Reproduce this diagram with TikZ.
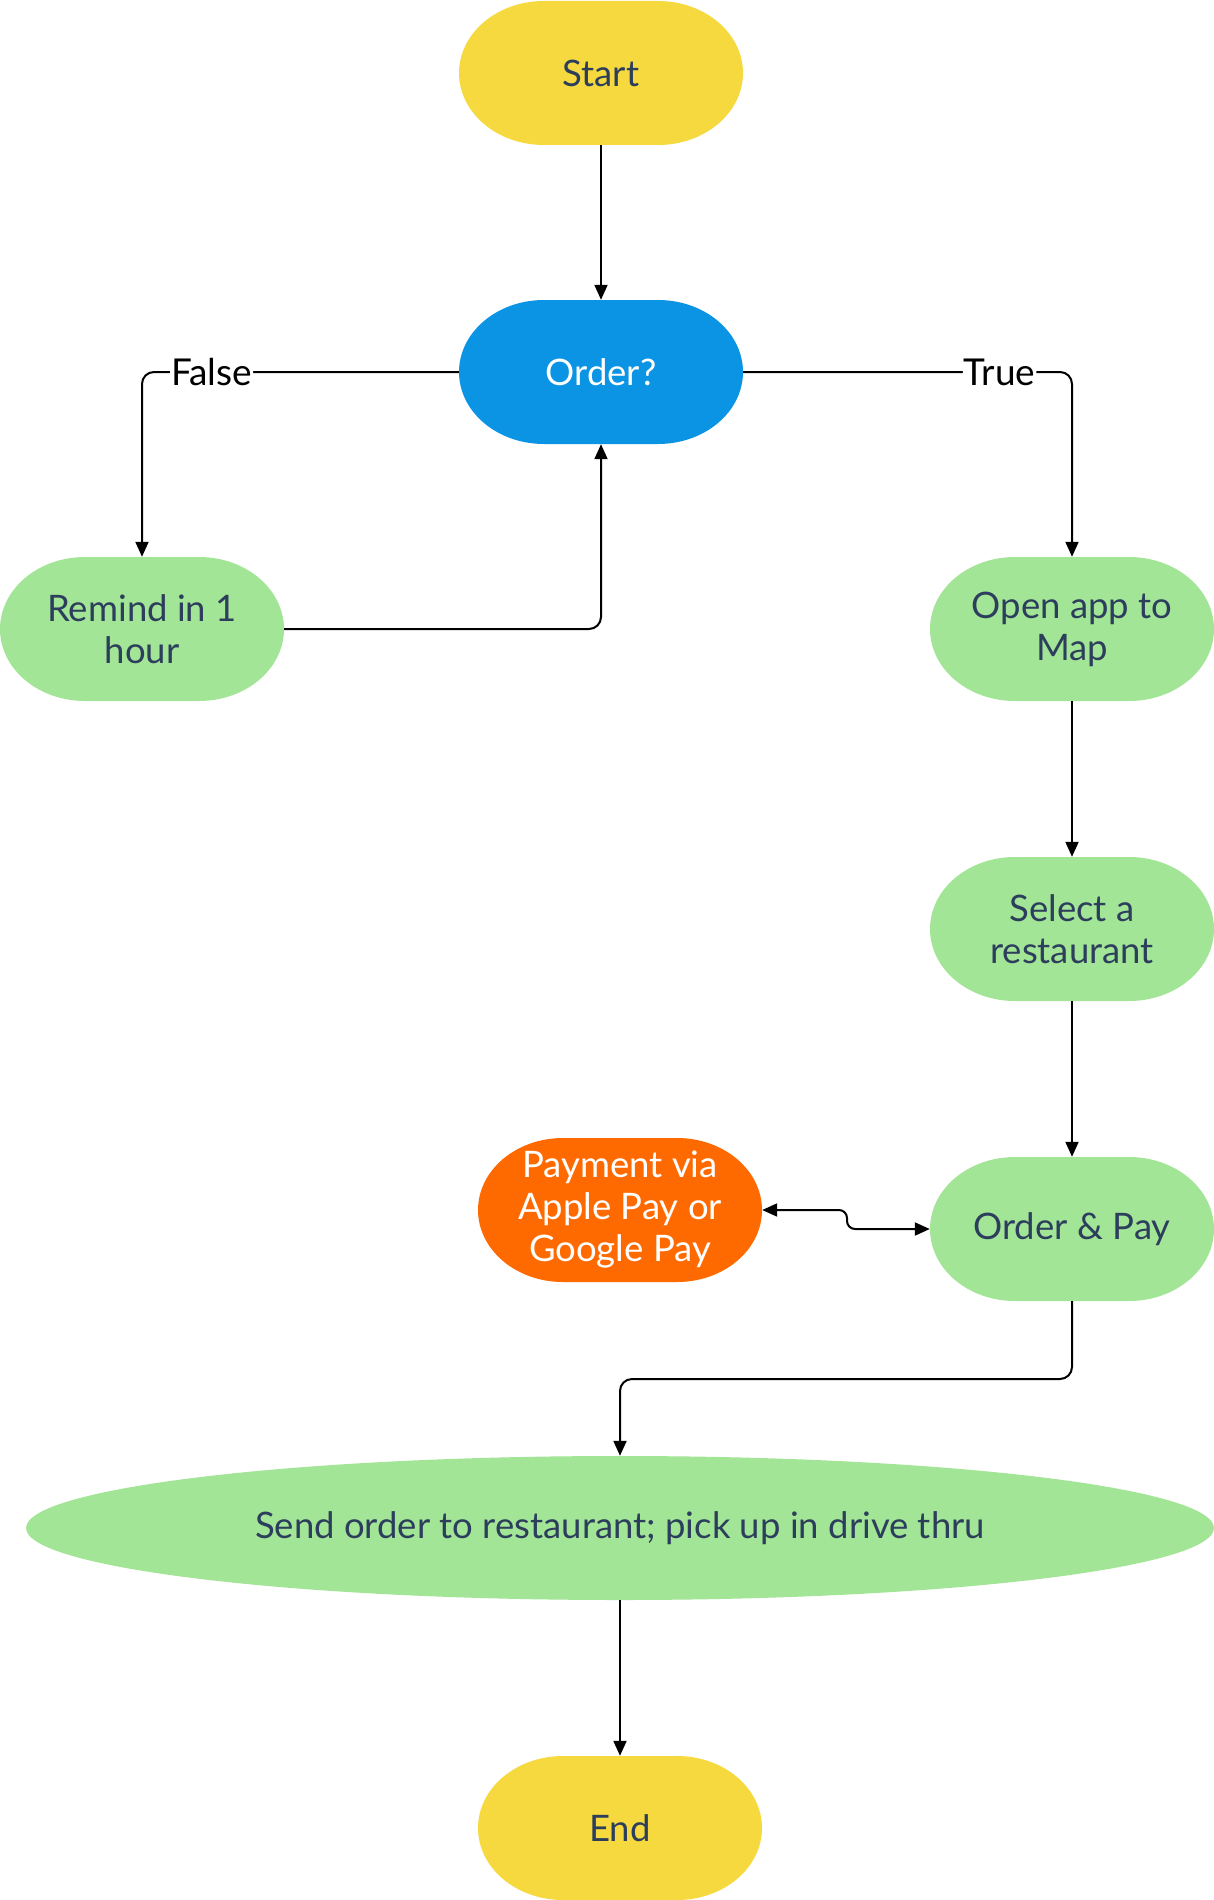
\documentclass[tikz,border=0pt]{standalone}
\usepackage{fontspec}
\setmainfont{Lato}
\usetikzlibrary{arrows.meta}
\definecolor{cyellow}{HTML}{F5D93F}
\definecolor{cblue}{HTML}{0A94E3}
\definecolor{cgreen}{HTML}{A3E596}
\definecolor{corange}{HTML}{FF6A00}
\definecolor{ctext}{HTML}{2C3E5C}
\newcommand\termnode[6]{%
  \fill[#4] ({#2-57},{#3+72}) -- ({#2+57},{#3+72})
    arc[start angle=90,end angle=-90,x radius=85,y radius=72]
    -- ({#2-57},{#3-72})
    arc[start angle=270,end angle=90,x radius=85,y radius=72] -- cycle;
  \node[term,text=#5] (#1) at (#2,#3) {#6};}
\tikzset{
  term/.style={rectangle,minimum width=284pt,minimum height=144pt,inner sep=0pt,
    align=center,font=\fontsize{36.5}{42}\selectfont},
  conn/.style={line width=2pt,-{Triangle[length=15pt,width=13pt]},rounded corners=12pt},
  lbl/.style={fill=white,inner sep=1pt,text=black,font=\fontsize{37}{40}\selectfont}
}
\begin{document}
\begin{tikzpicture}[x=1pt,y=1pt]
\useasboundingbox (0,0) rectangle (1214,-1900);
\termnode{start}{601}{-73}{cyellow}{ctext}{Start}
\termnode{order}{601}{-372}{cblue}{white}{Order?}
\termnode{remind}{142}{-629}{cgreen}{ctext}{Remind in 1\\hour}
\termnode{open}{1072}{-629}{cgreen}{ctext}{Open app to\\Map}
\termnode{select}{1072}{-929}{cgreen}{ctext}{Select a\\restaurant}
\termnode{orderpay}{1072}{-1229}{cgreen}{ctext}{Order \& Pay}
\termnode{pay}{620}{-1210}{corange}{white}{Payment via\\Apple Pay or\\Google Pay}
\fill[cgreen] (620,-1528) ellipse[x radius=594,y radius=72];
\node[term,minimum width=1188pt,text=ctext] (send) at (620,-1528) {Send order to restaurant; pick up in drive thru};
\termnode{end}{620}{-1828}{cyellow}{ctext}{End}

\draw[conn] (start.south) -- (order.north);
\draw[conn] (order.west) -| node[lbl,pos=0.39] (false) {False} (remind.north);
\draw[conn] (order.east) -| node[lbl,pos=0.39] (true) {True} (open.north);
\draw[conn] (remind.east) -| (order.south);
\draw[conn] (open.south) -- (select.north);
\draw[conn] (select.south) -- (orderpay.north);
\draw[conn,{Triangle[length=15pt,width=13pt]}-{Triangle[length=15pt,width=13pt]},rounded corners=8pt]
  (pay.east) -- (847,-1210) -- (847,-1229) -- (orderpay.west);
\draw[conn] (orderpay.south) |- (620,-1379) -- (send.north);
\draw[conn] (send.south) -- (end.north);
\end{tikzpicture}
\end{document}
